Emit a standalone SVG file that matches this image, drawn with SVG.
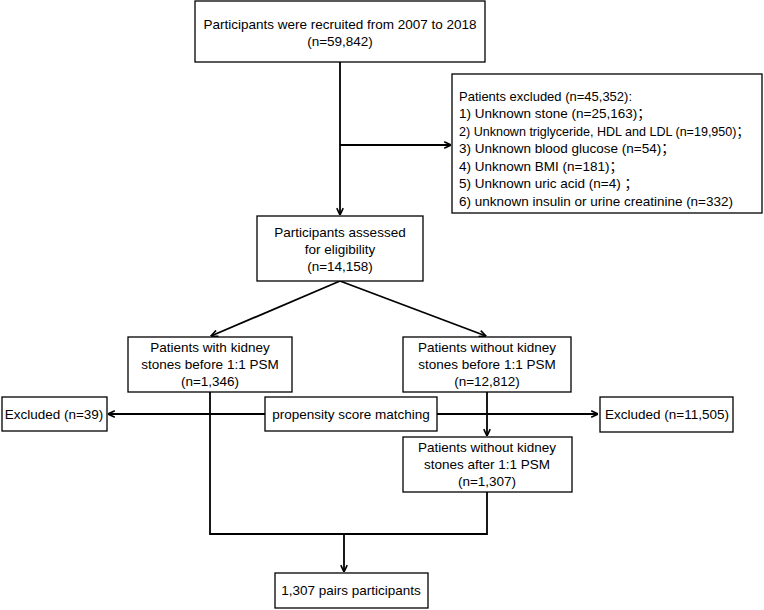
<svg xmlns="http://www.w3.org/2000/svg" width="764" height="610" viewBox="0 0 764 610">
<style>
.box{fill:#fff;stroke:#000;stroke-width:1.3}
.t{font-family:"Liberation Sans","Noto Sans CJK SC",Arial,sans-serif;font-size:13.5px;fill:#000}
.c{text-anchor:middle}
.ln{fill:none;stroke:#000;stroke-width:1.8}
</style>
<defs>
<marker id="ah" viewBox="0 0 10 10" refX="9.5" refY="5" markerWidth="8" markerHeight="8" markerUnits="userSpaceOnUse" orient="auto">
<path d="M1,1 L9.5,5 L1,9" fill="none" stroke="#000" stroke-width="2"/>
</marker>
</defs>
<rect width="764" height="610" fill="#fff"/>
<g id="connectors">
<path class="ln" d="M340,62 V215" marker-end="url(#ah)"/>
<path class="ln" d="M340,145 H451" marker-end="url(#ah)"/>
<path class="ln" d="M340,281 L211,336" marker-end="url(#ah)"/>
<path class="ln" d="M340,281 L486,336" marker-end="url(#ah)"/>
<path class="ln" d="M265,414 H108" marker-end="url(#ah)"/>
<path class="ln" d="M437,414 H598" marker-end="url(#ah)"/>
<path class="ln" d="M487,392 V436" marker-end="url(#ah)"/>
<path class="ln" d="M210,392 V534 H487 V492"/>
<path class="ln" d="M344,534 V572" marker-end="url(#ah)"/>
</g>
<g id="recruited">
<rect class="box" x="195" y="1" width="290" height="61"/>
<text class="t c" x="340" y="29">Participants were recruited from 2007 to 2018</text>
<text class="t c" x="340" y="46">(n=59,842)</text>
</g>
<g id="excluded-main">
<rect class="box" x="452" y="74" width="310" height="139"/>
<text class="t" x="459" y="101" textLength="173" lengthAdjust="spacingAndGlyphs">Patients excluded (n=45,352):</text>
<text class="t" x="459" y="118">1) Unknown stone (n=25,163)；</text>
<text class="t" x="459" y="136" textLength="290" lengthAdjust="spacingAndGlyphs">2) Unknown triglyceride, HDL and LDL (n=19,950)；</text>
<text class="t" x="459" y="153">3) Unknown blood glucose (n=54)；</text>
<text class="t" x="459" y="171">4) Unknown BMI (n=181)；</text>
<text class="t" x="459" y="188">5) Unknown uric acid (n=4) ；</text>
<text class="t" x="459" y="206" textLength="274" lengthAdjust="spacingAndGlyphs">6) unknown insulin or urine creatinine (n=332)</text>
</g>
<g id="assessed">
<rect class="box" x="257" y="216" width="166" height="65"/>
<text class="t c" x="340" y="237">Participants assessed</text>
<text class="t c" x="340" y="254">for eligibility</text>
<text class="t c" x="340" y="271">(n=14,158)</text>
</g>
<g id="with-stones">
<rect class="box" x="128" y="337" width="164" height="55"/>
<text class="t c" x="210" y="352">Patients with kidney</text>
<text class="t c" x="210" y="369">stones before 1:1 PSM</text>
<text class="t c" x="210" y="386">(n=1,346)</text>
</g>
<g id="without-stones-before">
<rect class="box" x="403" y="337" width="168" height="55"/>
<text class="t c" x="487" y="352">Patients without kidney</text>
<text class="t c" x="487" y="369">stones before 1:1 PSM</text>
<text class="t c" x="487" y="386">(n=12,812)</text>
</g>
<g id="psm">
<rect class="box" x="265" y="397" width="172" height="34"/>
<text class="t c" x="351" y="419">propensity score matching</text>
</g>
<g id="excluded-39">
<rect class="box" x="2" y="397" width="105" height="34"/>
<text class="t c" x="54" y="419">Excluded (n=39)</text>
</g>
<g id="excluded-11505">
<rect class="box" x="600" y="397" width="133" height="35"/>
<text class="t c" x="667" y="419">Excluded (n=11,505)</text>
</g>
<g id="without-stones-after">
<rect class="box" x="403" y="437" width="169" height="55"/>
<text class="t c" x="487" y="452">Patients without kidney</text>
<text class="t c" x="487" y="469">stones after 1:1 PSM</text>
<text class="t c" x="487" y="486">(n=1,307)</text>
</g>
<g id="pairs">
<rect class="box" x="275" y="573" width="153" height="35"/>
<text class="t c" x="351" y="595">1,307 pairs participants</text>
</g>
</svg>
